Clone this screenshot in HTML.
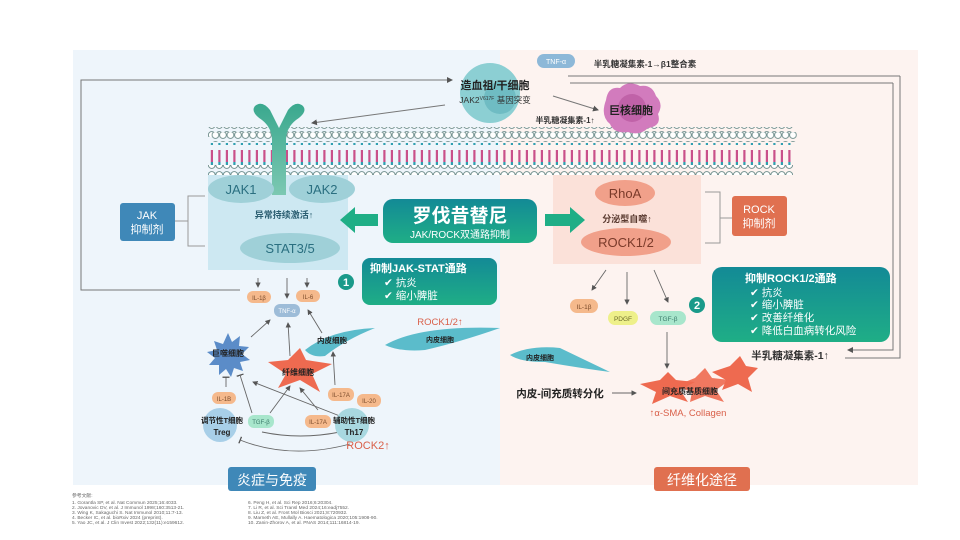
<!DOCTYPE html>
<html><head><meta charset="utf-8"><style>
body{margin:0;background:#fff;}
svg{display:block;font-family:"Liberation Sans","Noto Sans CJK SC",sans-serif;}
</style></head><body>
<svg width="960" height="540" viewBox="0 0 960 540" xmlns="http://www.w3.org/2000/svg">
<defs>
<pattern id="heads" x="208" y="0" width="7.5" height="10" patternUnits="userSpaceOnUse">
<circle cx="3.75" cy="5" r="3.4" fill="#fff" stroke="#6f8e8c" stroke-width="0.9"/>
</pattern>
<pattern id="tails" x="208" y="0" width="7.5" height="30" patternUnits="userSpaceOnUse">
<rect x="2.8" y="0" width="2.2" height="12" fill="#c9508a"/>
<rect x="2.8" y="12" width="2.2" height="13" fill="#2f9fb0"/>
</pattern>
<linearGradient id="gbox" x1="0" y1="0" x2="0" y2="1"><stop offset="0" stop-color="#138a96"/><stop offset="1" stop-color="#1fae86"/></linearGradient>
<linearGradient id="rec" x1="0" y1="0" x2="0" y2="1"><stop offset="0" stop-color="#3aa88e"/><stop offset="1" stop-color="#7cc8b2"/></linearGradient>
<marker id="ah" markerWidth="6" markerHeight="6" refX="5" refY="3" orient="auto"><path d="M0,0L6,3L0,6z" fill="#555"/></marker>
<marker id="tb" markerWidth="2" markerHeight="8" refX="1" refY="4" orient="auto"><rect x="0" y="0" width="1.5" height="8" fill="#555"/></marker>
</defs>
<rect width="960" height="540" fill="#fff"/>
<rect x="73" y="50" width="427" height="435" fill="#eef5fb"/>
<rect x="500" y="50" width="418" height="435" fill="#fdf3f0"/>

<g stroke="#777" stroke-width="1" fill="none">
<polyline points="240,290 81,290 81,80 452,80" marker-end="url(#ah)"/>
<line x1="445" y1="105" x2="312" y2="123" marker-end="url(#ah)"/>
<line x1="553" y1="96" x2="598" y2="110" marker-end="url(#ah)"/>
<polyline points="900,76 900,358 845,358"/>
<polyline points="893,83 570,83"/>
<polyline points="900,76 568,76"/>
<polyline points="893,83 893,350 848,350" marker-end="url(#ah)"/>
</g>

<rect x="208" y="172" width="140" height="98" fill="#cde8f2"/>
<rect x="553" y="172" width="148" height="92" fill="#fbe1d9"/>

<rect x="208" y="127" width="585" height="10" fill="url(#heads)"/>
<rect x="208" y="132" width="585" height="10" fill="url(#heads)" transform="translate(3.7,0)"/>
<rect x="208" y="143" width="585" height="25" fill="url(#tails)"/>
<rect x="208" y="165" width="585" height="10" fill="url(#heads)"/>

<path d="M272,195 L272,140 Q272,128 262,120 Q250,112 255,106 Q262,100 270,110 Q276,122 279,128 Q282,122 288,110 Q296,100 303,106 Q308,112 296,120 Q286,128 286,140 L286,195 Z" fill="url(#rec)"/>

<ellipse cx="241" cy="189" rx="33" ry="14" fill="#9fd0d8"/>
<text x="241" y="194" font-size="13" fill="#2a6f80" text-anchor="middle">JAK1</text>
<ellipse cx="322" cy="189" rx="33" ry="14" fill="#9fd0d8"/>
<text x="322" y="194" font-size="13" fill="#2a6f80" text-anchor="middle">JAK2</text>
<text x="284" y="218" font-size="9" fill="#2a5d70" text-anchor="middle" font-weight="bold">异常持续激活↑</text>
<ellipse cx="290" cy="248" rx="50" ry="15" fill="#9fd0d8"/>
<text x="290" y="253" font-size="13" fill="#2a6f80" text-anchor="middle">STAT3/5</text>

<rect x="120" y="203" width="55" height="38" rx="3" fill="#3f88b8"/>
<text x="147" y="219" font-size="11" fill="#fff" text-anchor="middle">JAK</text>
<text x="147" y="233" font-size="11" fill="#fff" text-anchor="middle">抑制剂</text>
<polyline points="205,196 188,196 188,246 205,246" fill="none" stroke="#999"/>
<line x1="175" y1="221" x2="188" y2="221" stroke="#999"/>

<ellipse cx="625" cy="193" rx="30" ry="13" fill="#f1a08a"/>
<text x="625" y="198" font-size="13" fill="#7a3a2a" text-anchor="middle">RhoA</text>
<text x="627" y="222" font-size="9" fill="#5a3a30" text-anchor="middle" font-weight="bold">分泌型自噬↑</text>
<ellipse cx="626" cy="242" rx="45" ry="14" fill="#f1a08a"/>
<text x="626" y="247" font-size="13" fill="#7a3a2a" text-anchor="middle">ROCK1/2</text>
<rect x="732" y="196" width="55" height="40" rx="3" fill="#e07050"/>
<text x="759" y="213" font-size="11" fill="#fff" text-anchor="middle">ROCK</text>
<text x="759" y="227" font-size="11" fill="#fff" text-anchor="middle">抑制剂</text>
<polyline points="705,192 720,192 720,243 705,243" fill="none" stroke="#999"/>
<line x1="720" y1="218" x2="732" y2="218" stroke="#999"/>

<path d="M340,220 L355,207 L355,214 L378,214 L378,226 L355,226 L355,233 Z" fill="#1fae86"/>
<path d="M585,220 L570,207 L570,214 L545,214 L545,226 L570,226 L570,233 Z" fill="#1fae86"/>
<rect x="383" y="199" width="154" height="44" rx="10" fill="url(#gbox)"/>
<text x="460" y="222" font-size="19" fill="#fff" text-anchor="middle" font-weight="bold">罗伐昔替尼</text>
<text x="460" y="238" font-size="10" fill="#fff" text-anchor="middle">JAK/ROCK双通路抑制</text>

<rect x="362" y="258" width="135" height="47" rx="8" fill="url(#gbox)"/>
<text x="370" y="272" font-size="11" fill="#fff" font-weight="bold">抑制JAK-STAT通路</text>
<text x="384" y="286" font-size="10.5" fill="#fff">✔ 抗炎</text>
<text x="384" y="299" font-size="10.5" fill="#fff">✔ 缩小脾脏</text>
<circle cx="346" cy="282" r="8" fill="#1a9a8a"/><text x="346" y="286" font-size="11" fill="#fff" text-anchor="middle" font-weight="bold">1</text>

<rect x="712" y="267" width="178" height="75" rx="10" fill="url(#gbox)"/>
<text x="745" y="282" font-size="11" fill="#fff" font-weight="bold">抑制ROCK1/2通路</text>
<text x="750" y="296" font-size="10.5" fill="#fff">✔ 抗炎</text>
<text x="750" y="308" font-size="10.5" fill="#fff">✔ 缩小脾脏</text>
<text x="750" y="321" font-size="10.5" fill="#fff">✔ 改善纤维化</text>
<text x="750" y="334" font-size="10.5" fill="#fff">✔ 降低白血病转化风险</text>
<circle cx="697" cy="305" r="8" fill="#1a9a8a"/><text x="697" y="309" font-size="11" fill="#fff" text-anchor="middle" font-weight="bold">2</text>
<text x="790" y="359" font-size="10.5" fill="#333" text-anchor="middle" font-weight="bold">半乳糖凝集素-1↑</text>

<circle cx="490" cy="93" r="30" fill="#8ccfd3"/>
<circle cx="500" cy="98" r="16" fill="#6fbcc3"/>
<text x="495" y="89" font-size="11" fill="#222" text-anchor="middle" font-weight="bold">造血祖/干细胞</text>
<text x="495" y="103" font-size="8.5" fill="#333" text-anchor="middle">JAK2<tspan font-size="5" dy="-3">V617F</tspan><tspan dy="3"> 基因突变</tspan></text>
<rect x="537" y="54" width="38" height="14" rx="7" fill="#8db8d8"/>
<text x="556" y="64" font-size="7" fill="#fff" text-anchor="middle">TNF-α</text>
<text x="645" y="67" font-size="8.5" fill="#333" text-anchor="middle" font-weight="bold">半乳糖凝集素-1→β1整合素</text>
<path d="M606,100 Q608,86 620,88 Q628,80 640,86 Q652,84 656,96 Q664,104 658,114 Q662,126 648,128 Q640,136 628,132 Q614,134 610,124 Q600,116 606,100Z" fill="#d27bbd"/>
<circle cx="632" cy="108" r="14" fill="#c062a8"/>
<text x="631" y="114" font-size="11" fill="#222" text-anchor="middle" font-weight="bold">巨核细胞</text>
<text x="565" y="123" font-size="8" fill="#333" text-anchor="middle" font-weight="bold">半乳糖凝集素-1↑</text>

<g stroke="#666" stroke-width="0.9" fill="none">
<line x1="258" y1="278" x2="258" y2="287" marker-end="url(#ah)"/>
<line x1="287" y1="278" x2="287" y2="298" marker-end="url(#ah)"/>
<line x1="307" y1="278" x2="307" y2="287" marker-end="url(#ah)"/>
<line x1="251" y1="337" x2="270" y2="320" marker-end="url(#ah)"/>
<line x1="290" y1="356" x2="288" y2="323" marker-end="url(#ah)"/>
<line x1="322" y1="333" x2="308" y2="310" marker-end="url(#ah)"/>
<line x1="226" y1="387" x2="226" y2="377" marker-end="url(#tb)"/>
<line x1="252" y1="413" x2="240" y2="375" marker-end="url(#tb)"/>
<line x1="270" y1="413" x2="290" y2="386" marker-end="url(#ah)"/>
<line x1="345" y1="418" x2="253" y2="382" marker-end="url(#ah)"/>
<line x1="318" y1="410" x2="300" y2="388" marker-end="url(#ah)"/>
<line x1="335" y1="385" x2="333" y2="352" marker-end="url(#ah)"/>
<path d="M262,432 Q300,440 340,432" marker-end="url(#tb)"/>
<path d="M350,444 Q290,460 240,440" marker-end="url(#tb)"/>
</g>
<rect x="247" y="291" width="24" height="12" rx="6" fill="#f5b98c"/><text x="259" y="300" font-size="6" fill="#7a4a2a" text-anchor="middle">IL-1β</text>
<rect x="274" y="304" width="26" height="13" rx="6" fill="#9dbcd8"/><text x="287" y="313" font-size="6" fill="#fff" text-anchor="middle">TNF-α</text>
<rect x="296" y="290" width="24" height="12" rx="6" fill="#f5b98c"/><text x="308" y="299" font-size="6" fill="#7a4a2a" text-anchor="middle">IL-6</text>
<path d="M228,333 l4,9 8,-6 -1,10 10,1 -7,7 8,6 -10,2 3,9 -9,-3 -3,9 -5,-8 -7,6 0,-10 -10,0 6,-7 -8,-6 10,-2 -3,-9 9,3z" fill="#5b8cc8"/>
<text x="228" y="356" font-size="8" fill="#222" text-anchor="middle" font-weight="bold">巨噬细胞</text>
<path d="M268,362 L288,360 L300,348 L306,360 L332,364 L312,374 L320,392 L300,380 L278,388 L286,374 Z" fill="#ee6a50"/>
<text x="298" y="375" font-size="8" fill="#222" text-anchor="middle" font-weight="bold">纤维细胞</text>
<path d="M305,350 Q330,330 375,328 Q345,340 325,356 Q312,358 305,350Z" fill="#5bbccb"/>
<text x="332" y="343" font-size="7.5" fill="#222" text-anchor="middle" font-weight="bold">内皮细胞</text>
<rect x="212" y="392" width="24" height="12" rx="6" fill="#f5b98c"/><text x="224" y="401" font-size="6" fill="#7a4a2a" text-anchor="middle">IL-1B</text>
<circle cx="220" cy="425" r="17" fill="#a8cfe8"/>
<text x="222" y="423" font-size="7.5" fill="#222" text-anchor="middle" font-weight="bold">调节性T细胞</text>
<text x="222" y="435" font-size="8" fill="#222" text-anchor="middle" font-weight="bold">Treg</text>
<rect x="248" y="415" width="26" height="13" rx="6" fill="#a8e6cc"/><text x="261" y="424" font-size="6" fill="#3a7a6a" text-anchor="middle">TGF-β</text>
<rect x="305" y="415" width="26" height="13" rx="6" fill="#f5b98c"/><text x="318" y="424" font-size="6" fill="#7a4a2a" text-anchor="middle">IL-17A</text>
<rect x="328" y="388" width="26" height="13" rx="6" fill="#f5b98c"/><text x="341" y="397" font-size="6" fill="#7a4a2a" text-anchor="middle">IL-17A</text>
<rect x="357" y="394" width="24" height="13" rx="6" fill="#f5b98c"/><text x="369" y="403" font-size="6" fill="#7a4a2a" text-anchor="middle">IL-20</text>
<circle cx="352" cy="425" r="17" fill="#a8d8e0"/>
<text x="354" y="423" font-size="7.5" fill="#222" text-anchor="middle" font-weight="bold">辅助性T细胞</text>
<text x="354" y="435" font-size="8" fill="#222" text-anchor="middle" font-weight="bold">Th17</text>
<text x="368" y="449" font-size="11" fill="#d9604a" text-anchor="middle">ROCK2↑</text>
<text x="440" y="325" font-size="9.5" fill="#d9604a" text-anchor="middle">ROCK1/2↑</text>
<path d="M385,345 Q420,325 500,328 Q460,342 425,350 Q400,352 385,345Z" fill="#5bbccb"/>
<text x="440" y="342" font-size="7" fill="#222" text-anchor="middle" font-weight="bold">内皮细胞</text>

<g stroke="#666" stroke-width="0.9" fill="none">
<line x1="606" y1="270" x2="592" y2="290" marker-end="url(#ah)"/>
<line x1="627" y1="272" x2="627" y2="304" marker-end="url(#ah)"/>
<line x1="654" y1="270" x2="668" y2="302" marker-end="url(#ah)"/>
<line x1="667" y1="332" x2="667" y2="368" marker-end="url(#ah)"/>
<line x1="612" y1="393" x2="636" y2="393" marker-end="url(#ah)"/>
</g>
<rect x="570" y="299" width="28" height="14" rx="7" fill="#f5b98c"/><text x="584" y="309" font-size="6.5" fill="#7a4a2a" text-anchor="middle">IL-1β</text>
<rect x="608" y="311" width="30" height="14" rx="7" fill="#eef08a"/><text x="623" y="321" font-size="6.5" fill="#6a6a2a" text-anchor="middle">PDGF</text>
<rect x="650" y="311" width="36" height="14" rx="7" fill="#a8e6cc"/><text x="668" y="321" font-size="6.5" fill="#3a7a6a" text-anchor="middle">TGF-β</text>
<path d="M510,355 Q530,345 560,348 Q585,360 610,372 Q580,368 545,362 Q520,362 510,355Z" fill="#5bbccb"/>
<text x="540" y="360" font-size="7" fill="#222" text-anchor="middle" font-weight="bold">内皮细胞</text>
<text x="560" y="397" font-size="10.5" fill="#222" text-anchor="middle" font-weight="bold">内皮-间充质转分化</text>
<g fill="#ee6a50">
<path d="M640,384 L660,380 L668,372 L676,380 L695,382 L680,390 L688,402 L670,396 L652,404 L656,392Z"/>
<path d="M675,386 L695,378 L705,368 L712,378 L730,380 L716,390 L724,402 L705,396 L690,402 L692,392Z" opacity="0.9"/>
<path d="M712,372 L730,366 L740,356 L746,366 L758,368 L748,378 L752,392 L738,384 L722,390 L726,380Z"/>
</g>
<text x="690" y="394" font-size="8" fill="#222" text-anchor="middle" font-weight="bold">间充质基质细胞</text>
<text x="688" y="416" font-size="9.5" fill="#d9604a" text-anchor="middle">↑α-SMA, Collagen</text>

<rect x="228" y="467" width="88" height="24" rx="3" fill="#3f88b8"/>
<text x="272" y="485" font-size="14" fill="#fff" text-anchor="middle">炎症与免疫</text>
<rect x="654" y="467" width="96" height="24" rx="3" fill="#e07050"/>
<text x="702" y="485" font-size="14" fill="#fff" text-anchor="middle">纤维化途径</text>

<g font-size="4.8" fill="#666">
<text x="72" y="497">参考文献:</text>
<text x="72" y="504">1.   Gorantla SP, et al. Nat Commun 2025;16:4033.</text>
<text x="72" y="509">2.   Jovanovic DV, et al. J Immunol 1998;160:3513-21.</text>
<text x="72" y="514">3.   Wing K, Sakaguchi S. Nat Immunol 2010;11:7-13.</text>
<text x="72" y="519">4.   Becker IC, et al. bioRxiv 2024 (preprint).</text>
<text x="72" y="524">5.   Yao JC, et al. J Clin Invest 2022;132(11):e159612.</text>
<text x="248" y="504">6.   Peng H, et al. Sci Rep 2016;6:20304.</text>
<text x="248" y="509">7.   Li R, et al. Sci Transl Med 2024;16:eadj7552.</text>
<text x="248" y="514">8.   Liu Z, et al. Front Mol Biosci 2021;8:720932.</text>
<text x="248" y="519">9.   Marneth AE, Mullally A. Haematologica 2020;105:1908-90.</text>
<text x="248" y="524">10.  Zanin-Zhorov A, et al. PNAS 2014;111:16814-19.</text>
</g>
</svg>
</body></html>
